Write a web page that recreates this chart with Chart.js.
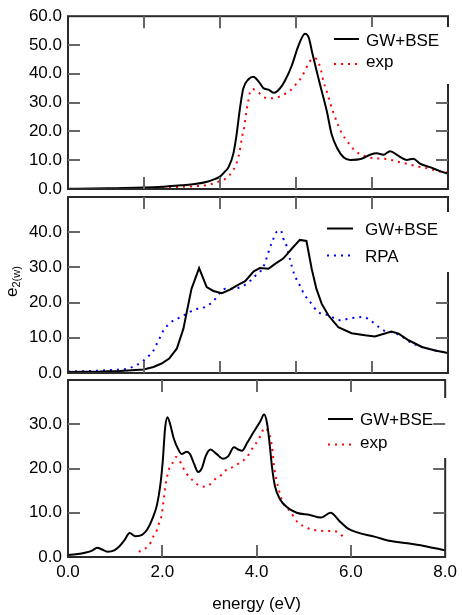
<!DOCTYPE html>
<html><head><meta charset="utf-8">
<script src="https://cdn.jsdelivr.net/npm/chart.js@4.4.1/dist/chart.umd.min.js"></script>
<style>
html,body{margin:0;padding:0;background:#fff;}
#wrap{position:relative;width:462px;height:615px;overflow:hidden;}
canvas{position:absolute;left:0;top:0;}
</style>
</head><body>
<div id="wrap">
<canvas id="c1" width="462" height="615"></canvas>
<canvas id="c2" width="462" height="615"></canvas>
<canvas id="c3" width="462" height="615"></canvas>
</div>
<script>
// ---------- data (energy in eV, e2 values) ----------
const topBseE = [0,0.5,1.0,1.6,2.0,2.4,2.67,2.95,3.1,3.2,3.3,3.38,3.48,3.55,3.62,3.69,3.80,3.90,4.01,4.11,4.22,4.34,4.46,4.57,4.71,4.85,4.99,5.07,5.14,5.24,5.31,5.45,5.55,5.66,5.80,5.94,6.18,6.36,6.50,6.64,6.78,6.95,7.13,7.27,7.41,7.62,7.83,8.0];
const topBseV = [0.1,0.15,0.3,0.5,0.8,1.3,1.7,2.6,3.5,4.3,6.0,7.6,12.2,19,28,34.9,38.1,39.0,37.4,35.1,34.5,33.4,34.9,37.7,42.8,49.7,53.9,52.5,47.4,40.6,36,26.9,19,14.4,11,10.1,10.5,11.9,12.4,11.9,13.1,11.6,10.1,10.5,8.8,7.6,6.2,5.3];

const topExpE = [0.8,1.6,2.0,2.4,2.74,3.06,3.2,3.34,3.45,3.53,3.61,3.66,3.71,3.74,3.77,3.80,3.83,3.88,4.01,4.13,4.29,4.44,4.58,4.71,4.81,4.91,4.99,5.06,5.13,5.20,5.27,5.32,5.38,5.45,5.52,5.59,5.67,5.76,5.90,6.04,6.22,6.39,6.64,6.81,6.99,7.13,7.34,7.59,7.80,8.0];
const topExpV = [0.1,0.2,0.4,0.8,1.0,1.9,2.8,3.8,5.9,8.2,12.7,17.8,21.5,25.2,28.3,30.9,33.5,34.7,33.5,31.8,31.5,32,33.1,34.7,36.6,38.6,41.1,43.4,45.1,45.4,44,41.7,37.2,33.8,29.8,26.4,22.9,19.5,16.1,13.3,11.6,10.8,10.5,10.1,9.3,8.8,7.9,7.1,6.2,5.7];

const midBseE = [0,0.67,1.09,1.59,1.80,1.97,2.13,2.29,2.43,2.50,2.60,2.76,2.92,3.06,3.24,3.41,3.59,3.73,3.91,4.04,4.22,4.36,4.53,4.66,4.71,4.88,5.02,5.13,5.23,5.34,5.48,5.69,5.97,6.25,6.46,6.67,6.81,6.96,7.17,7.45,7.73,8.0];
const midBseV = [0.3,0.4,0.6,1.0,1.7,2.7,4.1,6.9,12.6,17.3,23.9,29.8,24.4,23.3,22.7,23.7,25.1,26.1,28.9,29.8,29.6,31.0,32.5,34.5,35.3,37.8,37.5,29.6,23.9,19.7,16.4,13.0,11.3,10.7,10.4,11.2,11.8,11.2,9.3,7.4,6.4,5.7];

const midRpaE = [0,0.5,1.0,1.13,1.29,1.43,1.57,1.69,1.80,1.87,1.94,2.01,2.11,2.23,2.38,2.53,2.67,2.81,2.95,3.09,3.18,3.31,3.45,3.59,3.73,3.87,3.97,4.10,4.20,4.25,4.31,4.36,4.48,4.53,4.60,4.67,4.76,4.88,4.98,5.09,5.27,5.48,5.73,5.97,6.22,6.36,6.50,6.64,6.81,6.99,7.20,7.45,7.73,8.0];
const midRpaV = [0.4,0.6,0.9,1.0,1.4,2.2,3.3,4.7,6.4,8.3,10.2,12.1,13.7,15.0,15.9,17.1,18.1,18.4,19.2,20.9,22.5,23.9,23.9,24.2,25.1,26.6,28.0,29.8,33.4,35.6,37.6,39.5,40.5,38.3,36.2,32.5,28.2,24.9,22.2,20.3,17.3,16.4,15.0,15.6,15.9,15.0,13.5,12.1,11.6,10.7,8.8,7.4,6.4,5.8];

const botBseE = [0,0.17,0.38,0.52,0.62,0.72,0.84,0.98,1.08,1.19,1.31,1.43,1.57,1.68,1.80,1.89,1.96,2.01,2.06,2.11,2.17,2.24,2.34,2.41,2.52,2.59,2.68,2.76,2.84,2.92,3.02,3.15,3.29,3.40,3.52,3.61,3.69,3.80,3.94,4.08,4.16,4.22,4.27,4.33,4.39,4.50,4.64,4.85,5.13,5.36,5.57,5.76,5.94,6.15,6.50,6.85,7.2,7.55,8.0];
const botBseV = [0.45,0.6,1.0,1.5,2.1,1.7,1.2,1.5,2.3,3.7,5.4,4.7,5.0,6.2,8.9,11.9,16.4,21.7,29.2,31.6,29.9,26.9,24.3,23.3,23.8,23.2,20.9,19.2,20.1,22.8,24.3,23.3,22.2,22.8,24.8,24.3,24.0,25.8,28.3,30.7,32.2,30.3,26.2,20.1,16.0,13.0,11.3,10.0,9.5,8.9,10.0,8.1,6.4,5.5,4.6,3.6,3.1,2.5,1.5];

const botExpE = [1.50,1.64,1.76,1.82,1.89,1.94,1.99,2.01,2.03,2.05,2.07,2.10,2.14,2.21,2.29,2.36,2.43,2.51,2.61,2.73,2.87,3.01,3.13,3.26,3.37,3.52,3.64,3.78,3.94,4.04,4.18,4.28,4.33,4.37,4.42,4.50,4.57,4.71,4.85,5.09,5.27,5.45,5.62,5.74,5.85];
const botExpV = [1.2,1.9,3.4,4.9,6.2,8.0,9.6,11.3,13.0,14.7,16.4,18.0,19.8,21.1,22.6,21.9,20.4,18.9,17.7,16.5,15.9,16.4,17.7,18.6,19.8,20.4,21.3,22.4,25.0,26.5,29.2,27.3,24.7,20.5,17.5,14.1,12.0,10.4,8.1,6.5,6.0,5.9,5.9,5.5,4.4];

const seriesNames = { bse: 'GW+BSE', exp: 'exp', rpa: 'RPA' };
const xTitle = 'energy (eV)';
const yTitleMain = 'e';
const yTitleSub = '2(w)';

// ---------- helpers ----------
const FONT = "'Liberation Sans', Arial, Helvetica, sans-serif";
Chart.defaults.font.family = FONT;
Chart.defaults.font.size = 17;
Chart.defaults.color = '#000';

const pts = (e, v) => e.map((x, i) => ({ x: x, y: v[i] }));

function solid(label, e, v, smooth) {
  return { label, data: pts(e, v), borderColor: '#000', borderWidth: 2, pointRadius: 0,
    fill: false, tension: smooth ? 0.4 : 0, cubicInterpolationMode: smooth ? 'monotone' : 'default' };
}
function dotted(label, e, v, color) {
  return { label, data: pts(e, v), borderColor: color, borderWidth: 2, borderDash: [2, 5],
    borderCapStyle: 'butt', pointRadius: 0, fill: false, cubicInterpolationMode: 'monotone' };
}

const framePlugin = {
  id: 'frame',
  afterDatasetsDraw(chart, args, o) {
    const { ctx, chartArea: a } = chart;
    const xs = chart.scales.x, ys = chart.scales.y;
    const L = 12;
    ctx.save();
    // frame
    ctx.strokeStyle = '#2a2a2a';
    ctx.lineWidth = 2;
    ctx.strokeRect(a.left, a.top, a.right - a.left, a.bottom - a.top);

    const drawTicks = () => {
      ctx.strokeStyle = '#666';
      ctx.lineWidth = 2;
      ctx.setLineDash([]);
      ctx.beginPath();
      xs.ticks.forEach(t => {
        const px = Math.round(xs.getPixelForValue(t.value));
        if (px <= a.left + 2 || px >= a.right - 2) return;
        ctx.moveTo(px, a.top); ctx.lineTo(px, a.top + L);
        ctx.moveTo(px, a.bottom); ctx.lineTo(px, a.bottom - L);
      });
      ys.ticks.forEach(t => {
        const py = Math.round(ys.getPixelForValue(t.value));
        if (py <= a.top + 2 || py >= a.bottom - 2) return;
        ctx.moveTo(a.left, py); ctx.lineTo(a.left + L, py);
        ctx.moveTo(a.right, py); ctx.lineTo(a.right - L, py);
      });
      ctx.stroke();
    };
    const box = o.box;
    const drawBox = () => {
      ctx.fillStyle = '#fff';
      ctx.fillRect(box.x, box.y, box.w, box.h);
    };
    if (o.ticksOverBox) { drawBox(); drawTicks(); }
    else { drawTicks(); drawBox(); }

    // legend
    const lg = o.legend;
    chart.data.datasets.forEach((ds, i) => {
      ctx.save();
      ctx.strokeStyle = ds.borderColor;
      ctx.lineWidth = ds.borderWidth;
      ctx.setLineDash(ds.borderDash || []);
      ctx.beginPath();
      ctx.moveTo(lg.x0, lg.ly[i]); ctx.lineTo(lg.x1, lg.ly[i]);
      ctx.stroke();
      ctx.restore();
      ctx.fillStyle = '#000';
      ctx.font = '17px ' + FONT;
      ctx.textAlign = 'left';
      ctx.textBaseline = 'alphabetic';
      ctx.fillText(ds.label, lg.tx, lg.ty[i]);
    });

    // y title (e with subscript)
    if (o.yTitle) {
      ctx.save();
      ctx.translate(o.yTitle.x, o.yTitle.y);
      ctx.rotate(-Math.PI / 2);
      ctx.fillStyle = '#000';
      ctx.textBaseline = 'alphabetic';
      ctx.textAlign = 'left';
      ctx.font = '17px ' + FONT;
      ctx.fillText(yTitleMain, 0, 0);
      const w = ctx.measureText(yTitleMain).width;
      ctx.font = '11px ' + FONT;
      ctx.fillText(yTitleSub, w, 3);
      ctx.restore();
    }
    ctx.restore();
  }
};

function makeChart(id, datasets, cfg) {
  return new Chart(document.getElementById(id), {
    type: 'line',
    data: { datasets },
    plugins: [framePlugin],
    options: {
      responsive: false,
      animation: false,
      events: [],
      layout: { padding: { left: 0, right: 14, top: cfg.padTop, bottom: cfg.padBottom } },
      plugins: {
        legend: { display: false },
        tooltip: { enabled: false },
        frame: cfg.frame
      },
      scales: {
        x: {
          type: 'linear', min: 0, max: 8,
          grid: { display: false, drawTicks: false },
          border: { display: false },
          ticks: {
            display: cfg.xLabels, stepSize: cfg.xStep, padding: 5,
            callback: v => Number(v).toFixed(1)
          },
          title: cfg.xLabels ? { display: true, text: xTitle, padding: 0, font: { size: 17 } } : { display: false },
          afterFit: s => { s.height = cfg.xHeight; }
        },
        y: {
          type: 'linear', min: 0, max: cfg.yMax,
          grid: { display: false, drawTicks: false },
          border: { display: false },
          ticks: {
            stepSize: 10, padding: 6,
            callback: v => (cfg.hideTop && v >= cfg.yMax) ? '' : Number(v).toFixed(1)
          },
          afterFit: s => { s.width = 68; }
        }
      }
    }
  });
}

// top panel
makeChart('c1', [
  solid(seriesNames.bse, topBseE, topBseV, true),
  dotted(seriesNames.exp, topExpE, topExpV, '#ff0000')
], {
  padTop: 13, padBottom: 615 - 189, xHeight: 0, xStep: 1.6, xLabels: false, yMax: 60, hideTop: false,
  frame: {
    box: { x: 326, y: 27, w: 130, h: 57 }, ticksOverBox: false,
    legend: { x0: 334, x1: 359, tx: 366, ly: [39, 64], ty: [45.5, 67] }
  }
});

// middle panel
makeChart('c2', [
  solid(seriesNames.bse, midBseE, midBseV, false),
  dotted(seriesNames.rpa, midRpaE, midRpaV, '#0000ff')
], {
  padTop: 197, padBottom: 615 - 373, xHeight: 0, xStep: 1.6, xLabels: false, yMax: 50, hideTop: true,
  frame: {
    box: { x: 322, y: 212, w: 134, h: 60 }, ticksOverBox: false,
    legend: { x0: 327, x1: 353, tx: 365, ly: [228.5, 255.5], ty: [235, 261.7] },
    yTitle: { x: 17, y: 297 }
  }
});

// bottom panel
makeChart('c3', [
  solid(seriesNames.bse, botBseE, botBseV, true),
  dotted(seriesNames.exp, botExpE, botExpV, '#ff0000')
], {
  padTop: 380, padBottom: 0, xHeight: 58, xStep: 2, xLabels: true, yMax: 40, hideTop: true,
  frame: {
    box: { x: 322, y: 398, w: 134, h: 60 }, ticksOverBox: true,
    legend: { x0: 328, x1: 353, tx: 360, ly: [419, 444.5], ty: [425.3, 448] }
  }
});
</script>
</body></html>
